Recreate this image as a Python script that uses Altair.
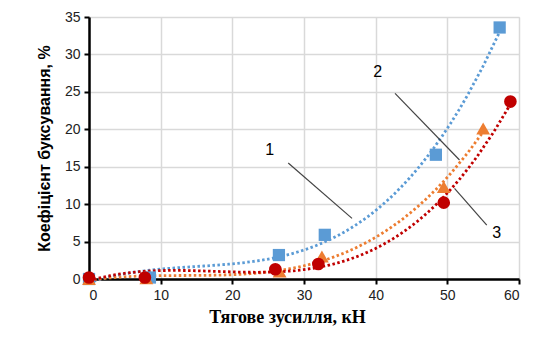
import altair as alt
import pandas as pd

# data
x1 = [0, 8.5, 26.5, 32.9, 48.4, 57.3]
y1 = [0.0, 0.2, 3.2, 5.9, 16.6, 33.6]
x2 = [0, 8.0, 26.6, 32.5, 49.5, 55.0]
y2 = [0.0, 0.1, 1.0, 3.0, 12.3, 20.1]
x3 = [0, 7.8, 26.0, 32.0, 49.5, 58.8]
y3 = [0.2, 0.2, 1.3, 2.0, 10.2, 23.7]

labels = ["1", "2", "3"]
label_x = [25.2, 40.3, 56.9]
label_y = [17.2, 27.6, 6.1]
lead_x1 = [27.8, 42.7, 55.5]
lead_y1 = [15.5, 24.8, 7.2]
lead_x2 = [36.7, 51.7, 51.0]
lead_y2 = [8.1, 15.9, 12.1]

colors = {"1": "#5B9BD5", "2": "#ED7D31", "3": "#C00000"}
shapes = {"1": "square", "2": "triangle-up", "3": "circle"}
sizes = {"1": 150, "2": 190, "3": 160}

rows = []
for s, xs_, ys_ in [("1", x1, y1), ("2", x2, y2), ("3", x3, y3)]:
    for a, b in zip(xs_, ys_):
        rows.append({"s": s, "x": a, "y": b})
df = pd.DataFrame(rows)

ann = pd.DataFrame({"t": labels, "tx": label_x, "ty": label_y,
                    "ax": lead_x1, "ay": lead_y1, "bx": lead_x2, "by": lead_y2})

xs = alt.Scale(domain=[0, 60], nice=False)
ys = alt.Scale(domain=[0, 35], nice=False)

xax = alt.Axis(values=list(range(0, 61, 10)), title="Тягове зусилля, кН",
               titleFont="Liberation Serif", titleFontSize=18, titleFontWeight="bold",
               titleColor="black", labelFont="Liberation Sans", labelFontSize=14,
               labelColor="#222", domainColor="black", domainWidth=2.5,
               tickColor="black", tickWidth=2, tickSize=5, labelPadding=4,
               gridColor="#d9d9d9", gridWidth=1.5, titlePadding=6, titleX=198)
yax = alt.Axis(values=list(range(0, 36, 5)), title="Коефіцієнт буксування, %",
               titleFont="Liberation Sans", titleFontSize=16, titleFontWeight="bold",
               titleColor="black", labelFont="Liberation Sans", labelFontSize=14,
               labelColor="#222", domainColor="black", domainWidth=2.5,
               tickColor="black", tickWidth=2, tickSize=5, labelPadding=4,
               gridColor="#d9d9d9", gridWidth=1.5, titlePadding=12,
               labelOverlap=False)

X = lambda f: alt.X(f, scale=xs, axis=xax)
Y = lambda f: alt.Y(f, scale=ys, axis=yax)

base = alt.Chart(df)

layers = []
for s in ["1", "2", "3"]:
    sub = base.transform_filter(alt.datum.s == s)
    trend = sub.transform_regression("x", "y", method="poly", order=3).mark_line(
        color=colors[s], strokeDash=[2.5, 2.5], strokeWidth=2.8, strokeCap="butt"
    ).encode(x=X("x:Q"), y=Y("y:Q"))
    layers.append(trend)
for s in ["1", "2", "3"]:
    sub = base.transform_filter(alt.datum.s == s)
    pts = sub.mark_point(filled=True, shape=shapes[s], size=sizes[s],
                         color=colors[s], opacity=1).encode(x=X("x:Q"), y=Y("y:Q"))
    layers.append(pts)

leads = alt.Chart(ann).mark_rule(color="#444", strokeWidth=1.2).encode(
    x=X("ax:Q"), y=Y("ay:Q"), x2="bx:Q", y2="by:Q")
texts = alt.Chart(ann).mark_text(font="Liberation Sans", fontSize=16, color="black").encode(
    x=X("tx:Q"), y=Y("ty:Q"), text="t:N")

chart = alt.layer(*layers, leads, texts).properties(
    width=430, height=262,
    autosize=alt.AutoSizeParams(type="none"),
    padding={"left": 81, "top": 9, "right": 9, "bottom": 51},
).configure_view(stroke=None).configure(background="white")

chart.save("out.html", embed_options={"renderer": "svg", "actions": False})
